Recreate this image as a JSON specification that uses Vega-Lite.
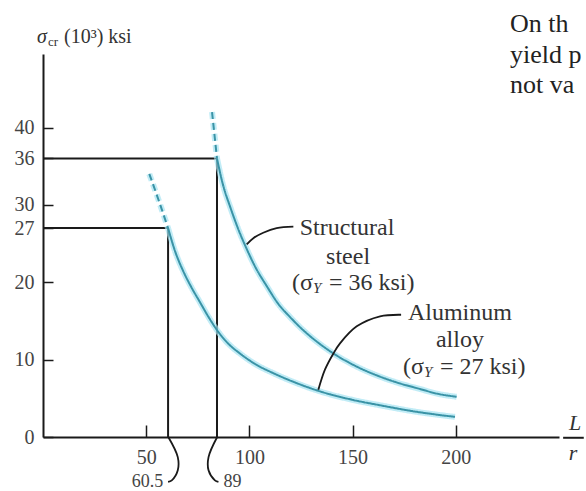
{
  "$schema": "https://vega.github.io/schema/vega-lite/v6.json",
  "width": 516,
  "height": 383,
  "autosize": {"type": "none"},
  "padding": {"left": 43, "top": 54, "right": 27, "bottom": 54},
  "background": "white",
  "config": {"view": {"stroke": null}, "font": "Liberation Serif"},
  "datasets": {
    "curves": [
      {"m": "steel", "s": "dash", "x": 81.9, "y": 42.0},
      {"m": "steel", "s": "dash", "x": 83.1, "y": 39.0},
      {"m": "steel", "s": "dash", "x": 84.3, "y": 36.0},
      {"m": "steel", "s": "solid", "x": 84.3, "y": 36.0},
      {"m": "steel", "s": "solid", "x": 87.0, "y": 32.8},
      {"m": "steel", "s": "solid", "x": 91.0, "y": 29.5},
      {"m": "steel", "s": "solid", "x": 95.0, "y": 26.6},
      {"m": "steel", "s": "solid", "x": 98.7, "y": 24.3},
      {"m": "steel", "s": "solid", "x": 103.0, "y": 21.9},
      {"m": "steel", "s": "solid", "x": 108.4, "y": 19.5},
      {"m": "steel", "s": "solid", "x": 114.0, "y": 17.2},
      {"m": "steel", "s": "solid", "x": 119.7, "y": 15.5},
      {"m": "steel", "s": "solid", "x": 124.5, "y": 14.2},
      {"m": "steel", "s": "solid", "x": 130.0, "y": 12.9},
      {"m": "steel", "s": "solid", "x": 140.7, "y": 10.8},
      {"m": "steel", "s": "solid", "x": 152.0, "y": 9.1},
      {"m": "steel", "s": "solid", "x": 163.3, "y": 7.8},
      {"m": "steel", "s": "solid", "x": 172.0, "y": 7.0},
      {"m": "steel", "s": "solid", "x": 182.7, "y": 6.2},
      {"m": "steel", "s": "solid", "x": 191.0, "y": 5.6},
      {"m": "steel", "s": "solid", "x": 200.4, "y": 5.2},
      {"m": "al", "s": "dash", "x": 51.5, "y": 34.0},
      {"m": "al", "s": "dash", "x": 55.9, "y": 30.7},
      {"m": "al", "s": "dash", "x": 60.7, "y": 26.9},
      {"m": "al", "s": "solid", "x": 60.7, "y": 26.9},
      {"m": "al", "s": "solid", "x": 64.0, "y": 24.0},
      {"m": "al", "s": "solid", "x": 68.0, "y": 21.4},
      {"m": "al", "s": "solid", "x": 72.0, "y": 19.3},
      {"m": "al", "s": "solid", "x": 76.1, "y": 17.4},
      {"m": "al", "s": "solid", "x": 80.0, "y": 15.6},
      {"m": "al", "s": "solid", "x": 84.9, "y": 13.6},
      {"m": "al", "s": "solid", "x": 90.0, "y": 12.0},
      {"m": "al", "s": "solid", "x": 95.4, "y": 10.8},
      {"m": "al", "s": "solid", "x": 103.0, "y": 9.4},
      {"m": "al", "s": "solid", "x": 112.0, "y": 8.2},
      {"m": "al", "s": "solid", "x": 124.5, "y": 6.8},
      {"m": "al", "s": "solid", "x": 134.2, "y": 5.9},
      {"m": "al", "s": "solid", "x": 150.0, "y": 4.8},
      {"m": "al", "s": "solid", "x": 163.3, "y": 4.1},
      {"m": "al", "s": "solid", "x": 180.0, "y": 3.3},
      {"m": "al", "s": "solid", "x": 199.6, "y": 2.6}
    ],
    "frame": [
      {"x": 0, "x2": 84.3, "y": 36, "y2": 36},
      {"x": 0, "x2": 60.6, "y": 27, "y2": 27},
      {"x": 60.6, "x2": 60.6, "y": 0, "y2": 27},
      {"x": 84.3, "x2": 84.3, "y": 0, "y2": 36},
      {"x": 252, "x2": 262, "y": -0.1, "y2": -0.1}
    ],
    "curvelines": [
      {"g": "steelLeader", "i": 0, "x": 121.3, "y": 27.2},
      {"g": "steelLeader", "i": 1, "x": 113.2, "y": 27.0},
      {"g": "steelLeader", "i": 2, "x": 106.7, "y": 26.4},
      {"g": "steelLeader", "i": 3, "x": 101.9, "y": 25.7},
      {"g": "steelLeader", "i": 4, "x": 98.7, "y": 24.9},
      {"g": "alLeader", "i": 0, "x": 173.5, "y": 15.8},
      {"g": "alLeader", "i": 1, "x": 163.3, "y": 15.6},
      {"g": "alLeader", "i": 2, "x": 152.0, "y": 14.3},
      {"g": "alLeader", "i": 3, "x": 143.9, "y": 12.1},
      {"g": "alLeader", "i": 4, "x": 140.7, "y": 10.8},
      {"g": "alLeader", "i": 5, "x": 136.6, "y": 8.7},
      {"g": "alLeader", "i": 6, "x": 133.4, "y": 6.1},
      {"g": "brace605", "i": 0, "x": 60.7, "y": 0},
      {"g": "brace605", "i": 1, "x": 65.3, "y": -2.6},
      {"g": "brace605", "i": 2, "x": 65.3, "y": -4.3},
      {"g": "brace605", "i": 3, "x": 62.4, "y": -5.6},
      {"g": "brace605", "i": 4, "x": 60.6, "y": -5.8},
      {"g": "brace89", "i": 0, "x": 84.4, "y": 0},
      {"g": "brace89", "i": 1, "x": 80.2, "y": -2.6},
      {"g": "brace89", "i": 2, "x": 80.2, "y": -4.3},
      {"g": "brace89", "i": 3, "x": 83.3, "y": -5.6},
      {"g": "brace89", "i": 4, "x": 85.0, "y": -5.8}
    ]
  },
  "layer": [
    {
      "data": {"name": "frame"},
      "mark": {"type": "rule", "color": "#1a1a1a", "strokeWidth": 2},
      "encoding": {
        "x": {
          "field": "x", "type": "quantitative",
          "scale": {"domain": [0, 250], "nice": false, "zero": false},
          "axis": {
            "values": [50, 100, 150, 200], "title": null, "grid": false,
            "tickSize": -12, "tickWidth": 1.5, "tickColor": "#1a1a1a",
            "domainColor": "#1a1a1a", "domainWidth": 2,
            "labelFont": "Liberation Serif", "labelFontSize": 20, "labelColor": "#444",
            "labelPadding": 22, "labelFlush": false, "labelOverlap": false
          }
        },
        "x2": {"field": "x2"},
        "y": {
          "field": "y", "type": "quantitative",
          "scale": {"domain": [0, 49.5], "nice": false, "zero": false},
          "axis": {
            "values": [0, 10, 20, 27, 30, 36, 40], "title": null, "grid": false,
            "tickSize": -10, "tickWidth": 1.5, "tickColor": "#1a1a1a",
            "domainColor": "#1a1a1a", "domainWidth": 2,
            "labelFont": "Liberation Serif", "labelFontSize": 20, "labelColor": "#444",
            "labelPadding": 19, "labelFlush": false, "labelOverlap": false
          }
        },
        "y2": {"field": "y2"}
      }
    },
    {
      "data": {"name": "curves"},
      "mark": {"type": "line", "color": "#a6e4f2", "strokeWidth": 6, "opacity": 0.7, "interpolate": "monotone"},
      "encoding": {
        "x": {"field": "x", "type": "quantitative"},
        "y": {"field": "y", "type": "quantitative"},
        "detail": {"field": "m"},
        "strokeDash": {"field": "s", "type": "nominal", "scale": {"domain": ["solid", "dash"], "range": [[1, 0], [7, 4]]}, "legend": null}
      }
    },
    {
      "data": {"name": "curves"},
      "mark": {"type": "line", "color": "#3a93a6", "strokeWidth": 2, "interpolate": "monotone"},
      "encoding": {
        "x": {"field": "x", "type": "quantitative"},
        "y": {"field": "y", "type": "quantitative"},
        "detail": {"field": "m"},
        "strokeDash": {"field": "s", "type": "nominal", "scale": {"domain": ["solid", "dash"], "range": [[1, 0], [7, 4]]}, "legend": null}
      }
    },
    {
      "data": {"name": "curvelines"},
      "mark": {"type": "line", "color": "#1a1a1a", "strokeWidth": 1.8, "interpolate": "catmull-rom"},
      "encoding": {
        "x": {"field": "x", "type": "quantitative"},
        "y": {"field": "y", "type": "quantitative"},
        "detail": {"field": "g"},
        "order": {"field": "i", "type": "quantitative"}
      }
    },
    {
      "data": {"values": [
        {"t": "Structural", "x": 147.3, "y": 27.0},
        {"t": "steel", "x": 147.8, "y": 23.2},
        {"t": "Aluminum", "x": 202.0, "y": 16.0},
        {"t": "alloy", "x": 202.0, "y": 12.5}
      ]},
      "mark": {"type": "text", "font": "Liberation Serif", "fontSize": 24, "color": "#333", "align": "center", "baseline": "middle"},
      "encoding": {
        "x": {"field": "x", "type": "quantitative"},
        "y": {"field": "y", "type": "quantitative"},
        "text": {"field": "t"}
      }
    },
    {
      "data": {"values": [
        {"t": "(σ", "x": 120.6, "y": 19.9},
        {"t": "(σ", "x": 174.4, "y": 9.1}
      ]},
      "mark": {"type": "text", "font": "Liberation Serif", "fontSize": 24, "color": "#333", "align": "left", "baseline": "middle"},
      "encoding": {
        "x": {"field": "x", "type": "quantitative"},
        "y": {"field": "y", "type": "quantitative"},
        "text": {"field": "t"}
      }
    },
    {
      "data": {"values": [
        {"t": "Y", "x": 120.6, "y": 19.9},
        {"t": "Y", "x": 174.4, "y": 9.1}
      ]},
      "mark": {"type": "text", "font": "Liberation Serif", "fontSize": 15, "fontStyle": "italic", "color": "#333", "align": "left", "baseline": "middle", "dx": 21, "dy": 5},
      "encoding": {
        "x": {"field": "x", "type": "quantitative"},
        "y": {"field": "y", "type": "quantitative"},
        "text": {"field": "t"}
      }
    },
    {
      "data": {"values": [
        {"t": "= 36 ksi)", "x": 120.6, "y": 19.9},
        {"t": "= 27 ksi)", "x": 174.4, "y": 9.1}
      ]},
      "mark": {"type": "text", "font": "Liberation Serif", "fontSize": 24, "color": "#333", "align": "left", "baseline": "middle", "dx": 37},
      "encoding": {
        "x": {"field": "x", "type": "quantitative"},
        "y": {"field": "y", "type": "quantitative"},
        "text": {"field": "t"}
      }
    },
    {
      "data": {"values": [
        {"t": "60.5", "x": 50.6, "y": -4.6},
        {"t": "89", "x": 91.8, "y": -4.6}
      ]},
      "mark": {"type": "text", "font": "Liberation Serif", "fontSize": 18, "color": "#444", "align": "center", "baseline": "top"},
      "encoding": {
        "x": {"field": "x", "type": "quantitative"},
        "y": {"field": "y", "type": "quantitative"},
        "text": {"field": "t"}
      }
    },
    {
      "data": {"values": [
        {"t": "L", "x": 257.8, "y": 1.8},
        {"t": "r", "x": 256.8, "y": -2.1}
      ]},
      "mark": {"type": "text", "font": "Liberation Serif", "fontSize": 22, "fontStyle": "italic", "color": "#333", "align": "center", "baseline": "middle"},
      "encoding": {
        "x": {"field": "x", "type": "quantitative"},
        "y": {"field": "y", "type": "quantitative"},
        "text": {"field": "t"}
      }
    },
    {
      "data": {"values": [{"t": "σ", "x": -2.9, "y": 51.7}]},
      "mark": {"type": "text", "font": "Liberation Serif", "fontSize": 20, "fontStyle": "italic", "color": "#333", "align": "left", "baseline": "middle"},
      "encoding": {
        "x": {"field": "x", "type": "quantitative"},
        "y": {"field": "y", "type": "quantitative"},
        "text": {"field": "t"}
      }
    },
    {
      "data": {"values": [{"t": "cr", "x": -2.9, "y": 51.7}]},
      "mark": {"type": "text", "font": "Liberation Serif", "fontSize": 13, "color": "#333", "align": "left", "baseline": "middle", "dx": 11, "dy": 5},
      "encoding": {
        "x": {"field": "x", "type": "quantitative"},
        "y": {"field": "y", "type": "quantitative"},
        "text": {"field": "t"}
      }
    },
    {
      "data": {"values": [{"t": "(10³) ksi", "x": -2.9, "y": 51.7}]},
      "mark": {"type": "text", "font": "Liberation Serif", "fontSize": 20, "color": "#333", "align": "left", "baseline": "middle", "dx": 27},
      "encoding": {
        "x": {"field": "x", "type": "quantitative"},
        "y": {"field": "y", "type": "quantitative"},
        "text": {"field": "t"}
      }
    },
    {
      "data": {"values": [
        {"t": "On th", "x": 226.3, "y": 52.4},
        {"t": "yield p", "x": 226.3, "y": 48.4},
        {"t": "not va", "x": 226.3, "y": 44.5}
      ]},
      "mark": {"type": "text", "font": "Liberation Serif", "fontSize": 26, "color": "#222", "align": "left", "baseline": "alphabetic"},
      "encoding": {
        "x": {"field": "x", "type": "quantitative"},
        "y": {"field": "y", "type": "quantitative"},
        "text": {"field": "t"}
      }
    }
  ]
}
